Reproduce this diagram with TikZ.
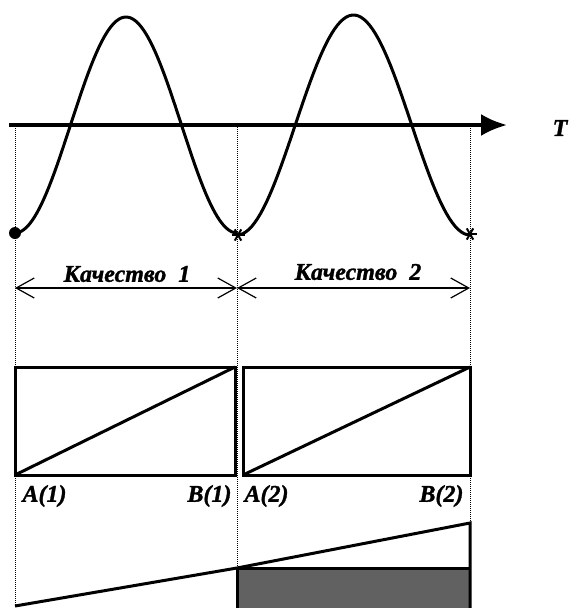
\documentclass[tikz,border=0pt]{standalone}
\usepackage{fontspec}
\setmainfont{Liberation Serif}[BoldItalicFeatures={FakeBold=1.3}]
\usetikzlibrary{arrows.meta}
\begin{document}
\begin{tikzpicture}[x=1pt,y=-1pt,
    lbl/.style={font=\fontsize{24}{28}\selectfont\bfseries\itshape},
    guide/.style={densely dotted,line width=1pt},
    span/.style={{Straight Barb[length=18pt,width=20pt]}-{Straight Barb[length=18pt,width=20pt]},line width=1.2pt},
    wave/.style={line width=3pt},
    frame/.style={line width=3pt}]
     \useasboundingbox (0,0) rectangle (568,608);
     \coordinate (a1) at (15,125);
     \coordinate (a2) at (237,125);
     \coordinate (a3) at (470,125);
     \draw[guide] (15,128) -- (15,608);
     \draw[guide] (a2) -- (237,608);
     \draw[guide] (470,128) -- (470,524);
     \draw[line width=3.5pt,-{Latex[length=26pt,width=22pt]}] (9,125) -- (507,125);
     \node[lbl] (T) at (560,128){T};
     \draw[wave,domain=15:237,samples=80] plot (\x,{125+108*cos(1.6216*(\x-15))});
     \draw[wave,domain=237:470,samples=80] plot (\x,{125+110*cos(1.5451*(\x-237))});
     \fill (15,233) circle [radius=6pt];
     \foreach \p in {(238,235),(470,234)}
       \foreach \a in {0,60,120}
         \draw[line width=2pt] \p ++(\a:6.5) -- ++(\a+180:13);
     \draw[span] (15,288) -- (237,288);
     \draw[span] (237,288) -- (470,288);
     \node[lbl] (q1) at (127,274){Качество\ \ 1};
     \node[lbl] (q2) at (358,272){Качество\ \ 2};
     \draw[frame] (15,367) rectangle (235,475);
     \draw[frame] (15,475) -- (235,367);
     \draw[frame] (243,367) rectangle (470,475);
     \draw[frame] (243,475) -- (470,367);
     \node[lbl,anchor=west] (A1) at (19,496){A(1)};
     \node[lbl,anchor=east] (B1) at (235,496){B(1)};
     \node[lbl,anchor=west] (A2) at (241,496){A(2)};
     \node[lbl,anchor=east] (B2) at (467,496){B(2)};
     \fill[black!62] (237,568) rectangle (470,608);
     \draw[frame] (237,608) -- (237,568) -- (470,568);
     \draw[frame] (15,606) -- (237,568) -- (470,523) -- (470,608);
\end{tikzpicture}
\end{document}
